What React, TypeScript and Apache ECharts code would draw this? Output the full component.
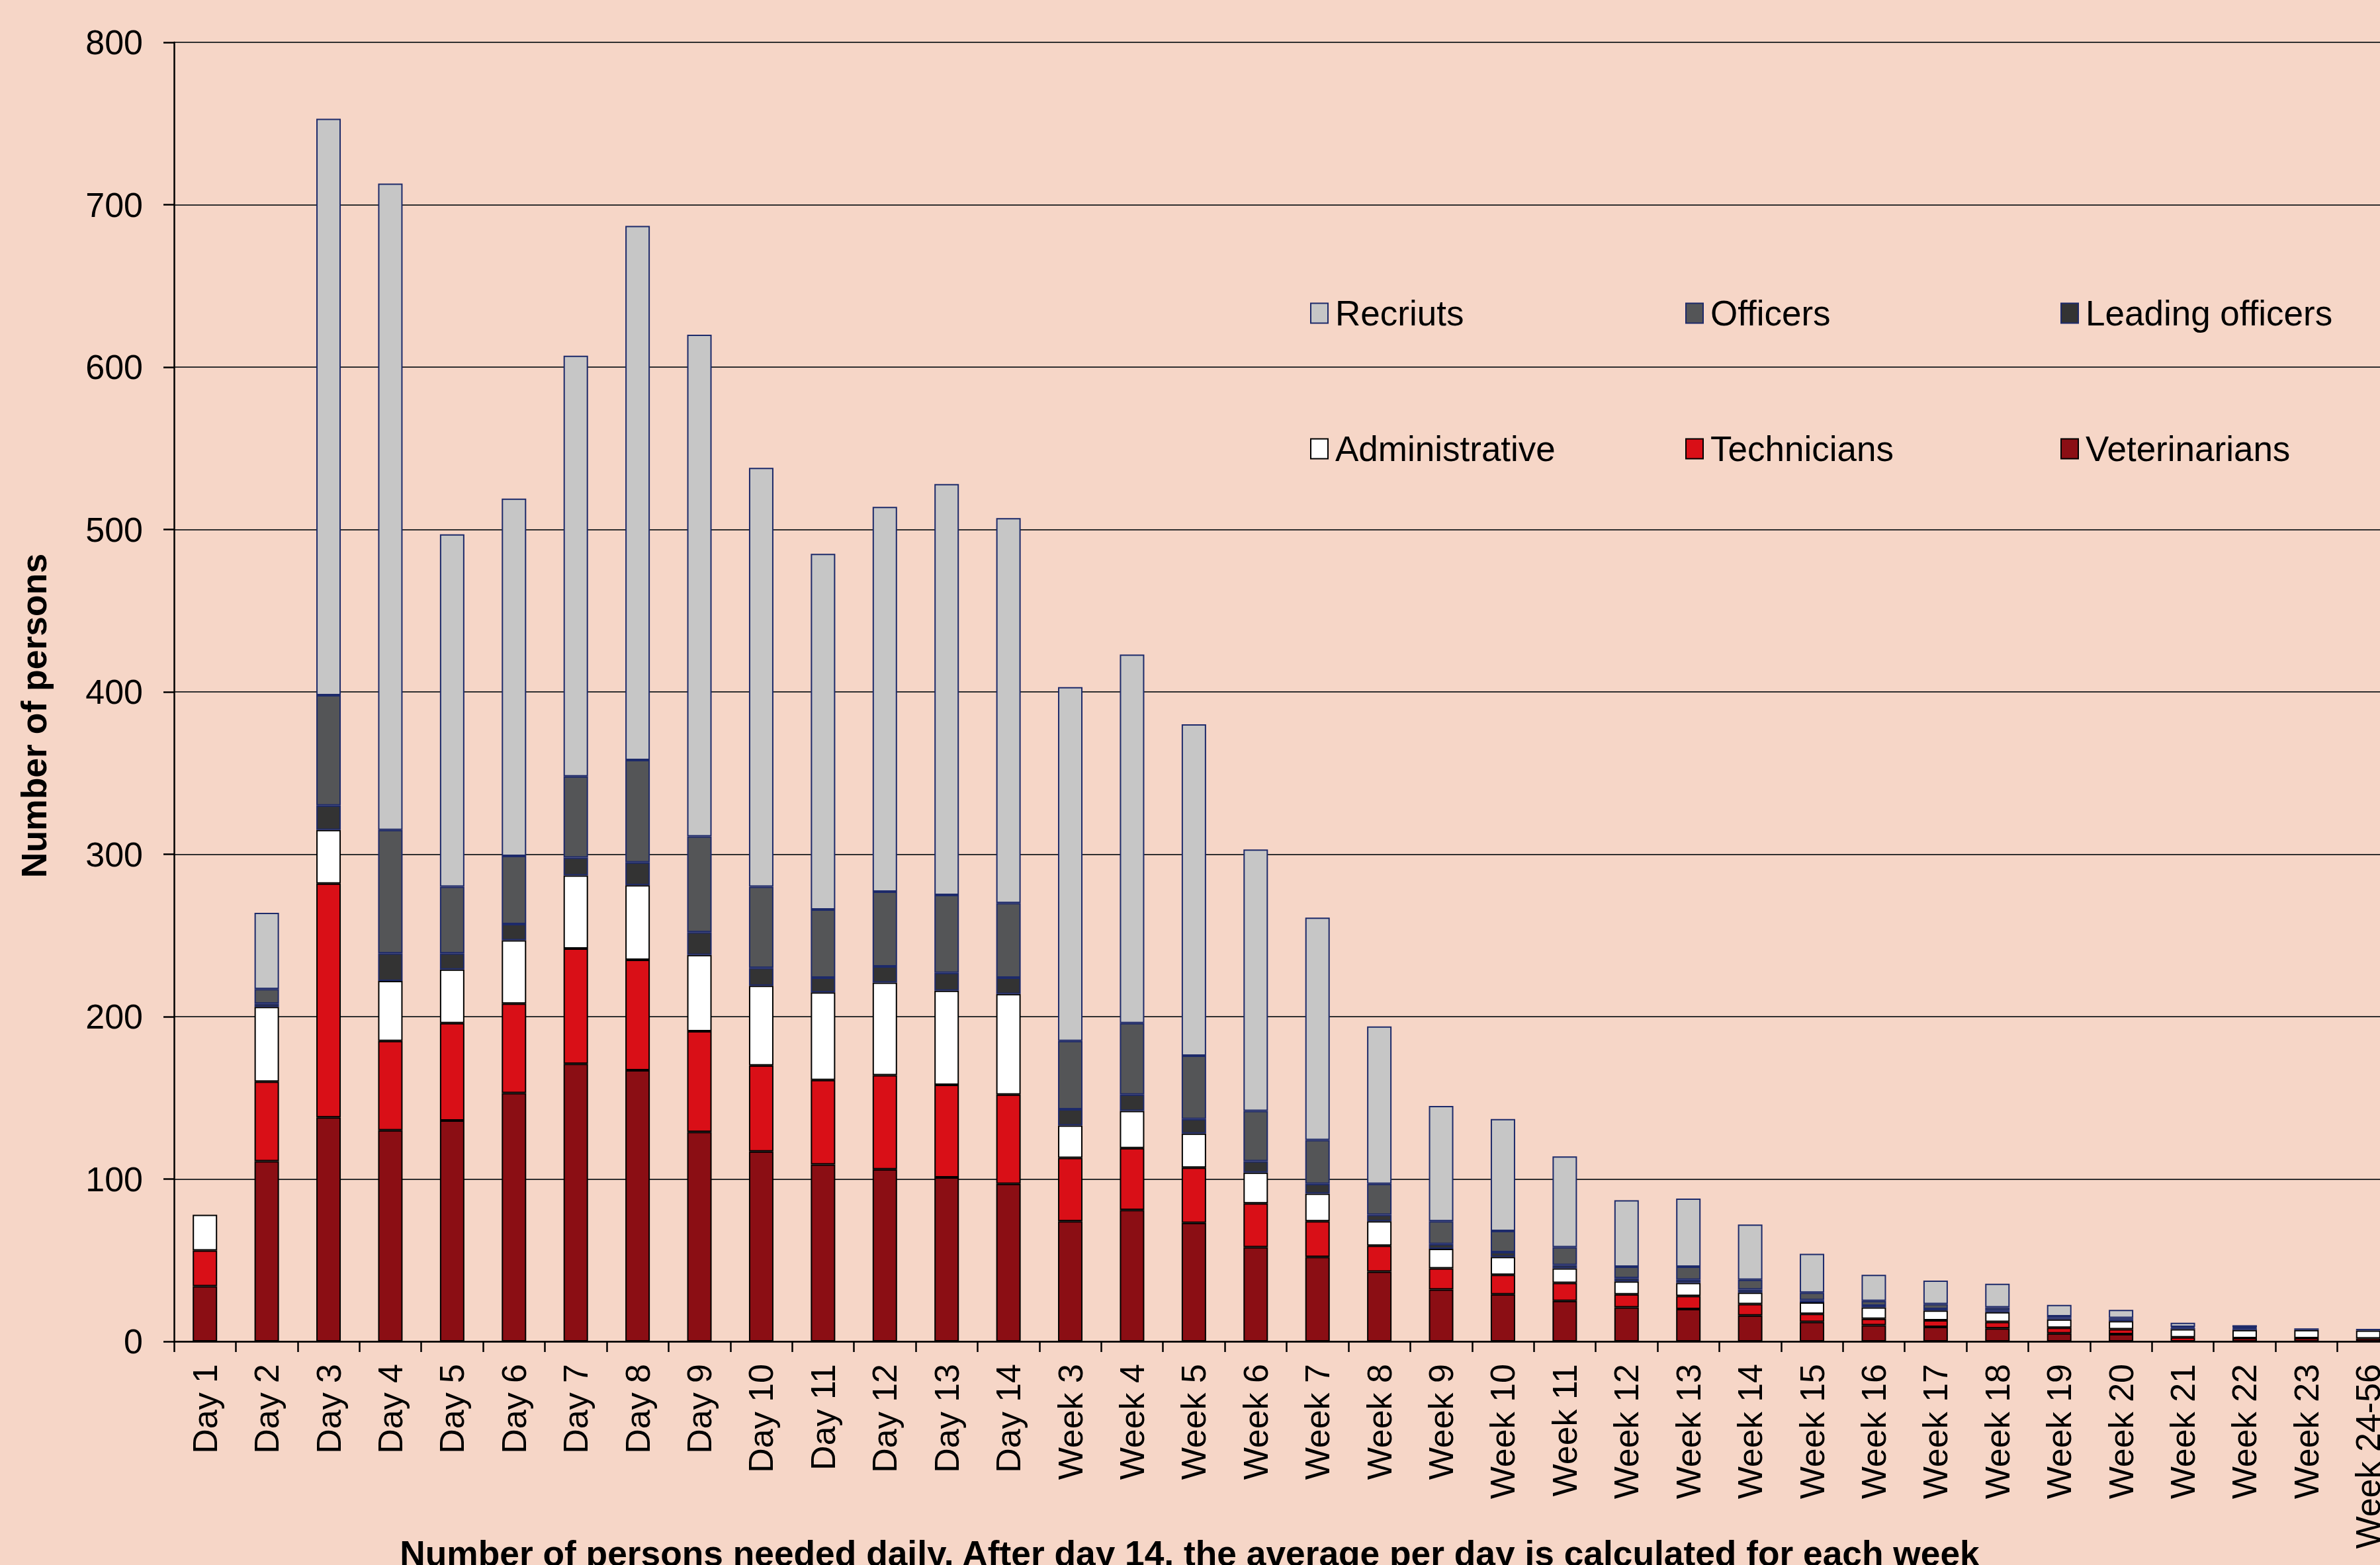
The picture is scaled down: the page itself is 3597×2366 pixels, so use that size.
import React, { useEffect, useRef } from "react";
import * as echarts from "echarts";

const categories = [
  "Day 1", "Day 2", "Day 3", "Day 4", "Day 5", "Day 6", "Day 7", "Day 8", "Day 9", "Day 10",
  "Day 11", "Day 12", "Day 13", "Day 14",
  "Week 3", "Week 4", "Week 5", "Week 6", "Week 7", "Week 8", "Week 9", "Week 10", "Week 11",
  "Week 12", "Week 13", "Week 14", "Week 15", "Week 16", "Week 17", "Week 18", "Week 19",
  "Week 20", "Week 21", "Week 22", "Week 23", "Week 24-56",
];

const veterinarians = [34, 111, 138, 130, 136, 153, 171, 167, 129, 117, 109, 106, 101, 97,
  74, 81, 73, 58, 52, 43, 32, 29, 25, 21, 20, 16, 12, 10, 9, 8, 5, 4.5, 0, 0, 0, 0];
const technicians = [22, 49, 144, 55, 60, 55, 71, 68, 62, 53, 52, 58, 57, 55,
  39, 38, 34, 27, 22, 16, 13, 12, 11, 8, 8, 7, 5, 4, 4, 4, 3.5, 3, 2.5, 2, 2, 1.8];
const administrative = [22, 46, 33, 37, 33, 39, 45, 46, 47, 49, 54, 57, 58, 62,
  20, 23, 21, 19, 17, 15, 12, 11, 9, 8, 8, 7, 7, 7, 6, 6, 5, 5, 5, 5, 5, 4.9];
const leadingOfficers = [0, 2, 15, 17, 10, 10, 11, 14, 14, 11, 9, 10, 11, 10,
  10, 10, 9, 7, 6, 4, 3, 3, 2, 2, 2, 2, 1.5, 1, 1, 1, 1, 1, 1, 1, 1, 1];
const officers = [0, 9, 68, 76, 41, 42, 50, 63, 59, 50, 42, 46, 48, 46,
  42, 44, 39, 31, 27, 19, 14, 13, 11, 7, 8, 6, 4.5, 3, 3, 2, 1, 1, 0.5, 0.5, 0, 0];
const recruits = [0, 47, 355, 398, 217, 220, 259, 329, 309, 258, 219, 237, 253, 237,
  218, 227, 204, 161, 137, 97, 71, 69, 56, 41, 42, 34, 24, 16, 14.5, 14.5, 7, 5, 2.5, 1.5, 0, 0];

const yTicks = [0, 100, 200, 300, 400, 500, 600, 700, 800];

const FONT = "'Liberation Sans', Arial, Helvetica, sans-serif";
const NAVY = "#1d2a6a";

const seriesDefs = [
  { name: "Veterinarians", data: veterinarians, color: "#8b0e14", border: "#000000" },
  { name: "Technicians", data: technicians, color: "#d90f17", border: "#000000" },
  { name: "Administrative", data: administrative, color: "#ffffff", border: "#000000" },
  { name: "Leading officers", data: leadingOfficers, color: "#333333", border: NAVY },
  { name: "Officers", data: officers, color: "#545557", border: NAVY },
  { name: "Recriuts", data: recruits, color: "#c6c6c6", border: NAVY },
];

const legendLayout = [
  { name: "Recriuts", left: 1980, cy: 473 },
  { name: "Officers", left: 2547, cy: 473 },
  { name: "Leading officers", left: 3114, cy: 473 },
  { name: "Administrative", left: 1980, cy: 678 },
  { name: "Technicians", left: 2547, cy: 678 },
  { name: "Veterinarians", left: 3114, cy: 678 },
];

export default function App() {
  const ref = useRef<HTMLDivElement>(null);
  useEffect(() => {
    if (!ref.current) return;
    const chart = echarts.init(ref.current, null, { renderer: "svg" });
    chart.setOption({
      animation: false,
      backgroundColor: "#f6d6c7",
      textStyle: { fontFamily: FONT },
      grid: { left: 263, top: 64, right: 4, bottom: 338, containLabel: false },
      legend: legendLayout.map((l) => ({
        data: [l.name],
        left: l.left,
        top: l.cy - 26,
        padding: 0,
        itemWidth: 26,
        itemHeight: 30,
        icon: "rect",
        selectedMode: false,
        textStyle: { fontSize: 53, color: "#000", fontFamily: FONT, padding: [0, 0, 0, 6] },
      })),
      xAxis: {
        type: "category",
        data: categories,
        boundaryGap: true,
        axisLine: { lineStyle: { color: "#000", width: 2.5 } },
        axisTick: { show: true, alignWithLabel: false, length: 16, lineStyle: { color: "#000", width: 2.5 } },
        axisLabel: { rotate: 90, margin: 34, fontSize: 52, color: "#000", fontFamily: FONT, interval: 0 },
      },
      yAxis: {
        type: "value",
        min: yTicks[0],
        max: yTicks[yTicks.length - 1],
        interval: 100,
        axisLine: { show: true, lineStyle: { color: "#000", width: 2.5 } },
        axisTick: { show: true, length: 16, lineStyle: { color: "#000", width: 2.5 } },
        axisLabel: { margin: 47, fontSize: 52, color: "#000", fontFamily: FONT },
        splitLine: { show: true, lineStyle: { color: "#303030", width: 2 } },
      },
      graphic: [
        {
          type: "text",
          x: 51,
          y: 1082,
          rotation: Math.PI / 2,
          style: {
            text: "Number of persons",
            fontSize: 53.5,
            fontWeight: "bold",
            fontFamily: FONT,
            fill: "#000",
            align: "center",
            verticalAlign: "middle",
            textAlign: "center",
            textVerticalAlign: "middle",
          },
        },
        {
          type: "text",
          x: 1798,
          y: 2348,
          style: {
            text: "Number of persons needed daily. After day 14, the average per day is calculated for each week",
            fontSize: 53.3,
            fontWeight: "bold",
            fontFamily: FONT,
            fill: "#000",
            align: "center",
            verticalAlign: "middle",
            textAlign: "center",
            textVerticalAlign: "middle",
          },
        },
      ],
      series: seriesDefs.map((s) => ({
        name: s.name,
        type: "bar",
        stack: "total",
        barWidth: 37,
        data: s.data.map((v) => (v === 0 ? null : v)),
        itemStyle: { color: s.color, borderColor: s.border, borderWidth: 2 },
        emphasis: { disabled: true },
      })),
    });
    return () => chart.dispose();
  }, []);
  return (
    <div style={{ position: "fixed", left: 0, top: 0, width: 3597, height: 2366, overflow: "hidden" }}>
      <div ref={ref} style={{ width: 3630, height: 2366 }} />
    </div>
  );
}
